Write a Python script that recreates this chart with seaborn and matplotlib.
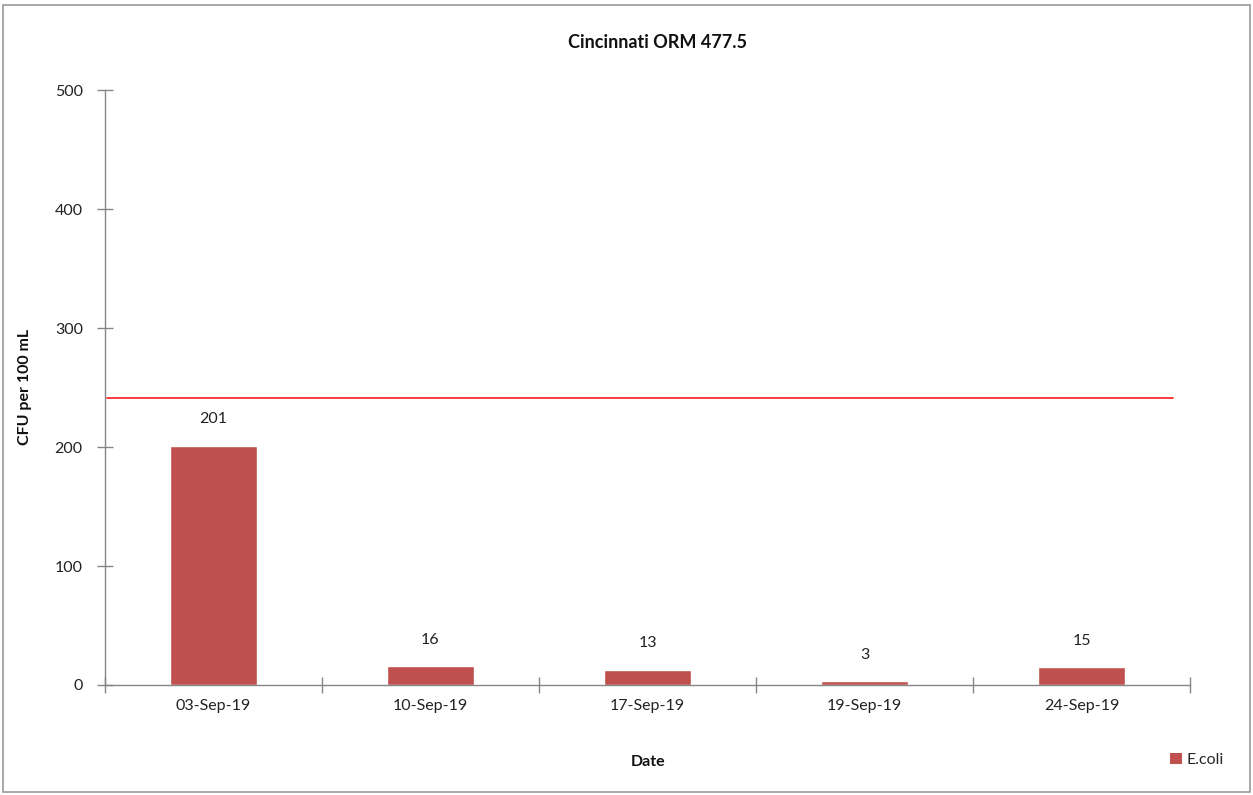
import matplotlib.pyplot as plt
import matplotlib.patches as patches
from matplotlib.ticker import FixedLocator
import pandas as pd
import seaborn as sns

# Data
dates = ['03-Sep-19', '10-Sep-19', '17-Sep-19', '19-Sep-19', '24-Sep-19']
ecoli = [201, 16, 13, 3, 15]
threshold = 241.5

sns.set_style('white')
plt.rcParams['font.family'] = ['Lato', 'DejaVu Sans']

df = pd.DataFrame({'date': dates, 'value': ecoli})

bar_color = '#C0504D'
axis_color = '#868686'
fs = 11.5

fig = plt.figure(figsize=(12.53, 7.95), dpi=100)
ax = fig.add_axes([105 / 1253, 1 - 685 / 795, 1085 / 1253, 595 / 795])

sns.barplot(data=df, x='date', y='value', color=bar_color, width=0.4,
            saturation=1, ax=ax)

# value labels above bars
ax.bar_label(ax.containers[0], labels=[str(v) for v in ecoli], padding=14,
             fontsize=fs, color='#222222')

# threshold line
ax.axhline(threshold, xmin=0.002, xmax=0.984, color='#FF3B3B', lw=1.4)

ax.set_xlim(-0.5, len(dates) - 0.5)
ax.set_ylim(0, 500)
ax.set_yticks(range(0, 501, 100))

# category separators as minor ticks
ax.xaxis.set_minor_locator(FixedLocator([i - 0.5 for i in range(len(dates) + 1)]))
ax.tick_params(axis='x', which='major', length=0, pad=10, labelsize=fs, labelcolor='#222222')
ax.tick_params(axis='x', which='minor', length=12, direction='inout', color=axis_color, width=1)
ax.tick_params(axis='y', which='major', length=12, direction='inout', color=axis_color,
               width=1, pad=10, labelsize=fs, labelcolor='#222222')
ax.tick_params(left=True, bottom=True)
ax.tick_params(axis='x', which='minor', bottom=True)

sns.despine(ax=ax)
for side in ['left', 'bottom']:
    ax.spines[side].set_color(axis_color)
    ax.spines[side].set_linewidth(1)

ax.set_xlabel('')
ax.set_ylabel('')
fig.text(648 / 1253, 1 - 762 / 795, 'Date', ha='center', va='center',
         fontsize=fs, fontweight='bold', color='#111111')
fig.text(25 / 1253, 1 - 387 / 795, 'CFU per 100 mL', ha='center', va='center',
         rotation=90, fontsize=fs, fontweight='bold', color='#111111')
fig.text(657 / 1253, 1 - 43 / 795, 'Cincinnati ORM 477.5', ha='center', va='center',
         fontsize=13, fontweight='bold', color='#111111')

# legend in lower right
handles = [patches.Patch(facecolor=bar_color, edgecolor='none')]
fig.legend(handles, ['E.coli'], loc='center left',
           bbox_to_anchor=(1156 / 1253, 1 - 760 / 795), frameon=False,
           fontsize=fs, handlelength=0.7, handleheight=0.7, handletextpad=0.3)

# chart border
fig.patches.append(patches.Rectangle((3 / 1253, 3 / 795), 1 - 6 / 1253, 1 - 8 / 795,
                                     transform=fig.transFigure, fill=False,
                                     edgecolor='#9a9a9a', lw=1.2))

fig.savefig('out.png', dpi=100)
